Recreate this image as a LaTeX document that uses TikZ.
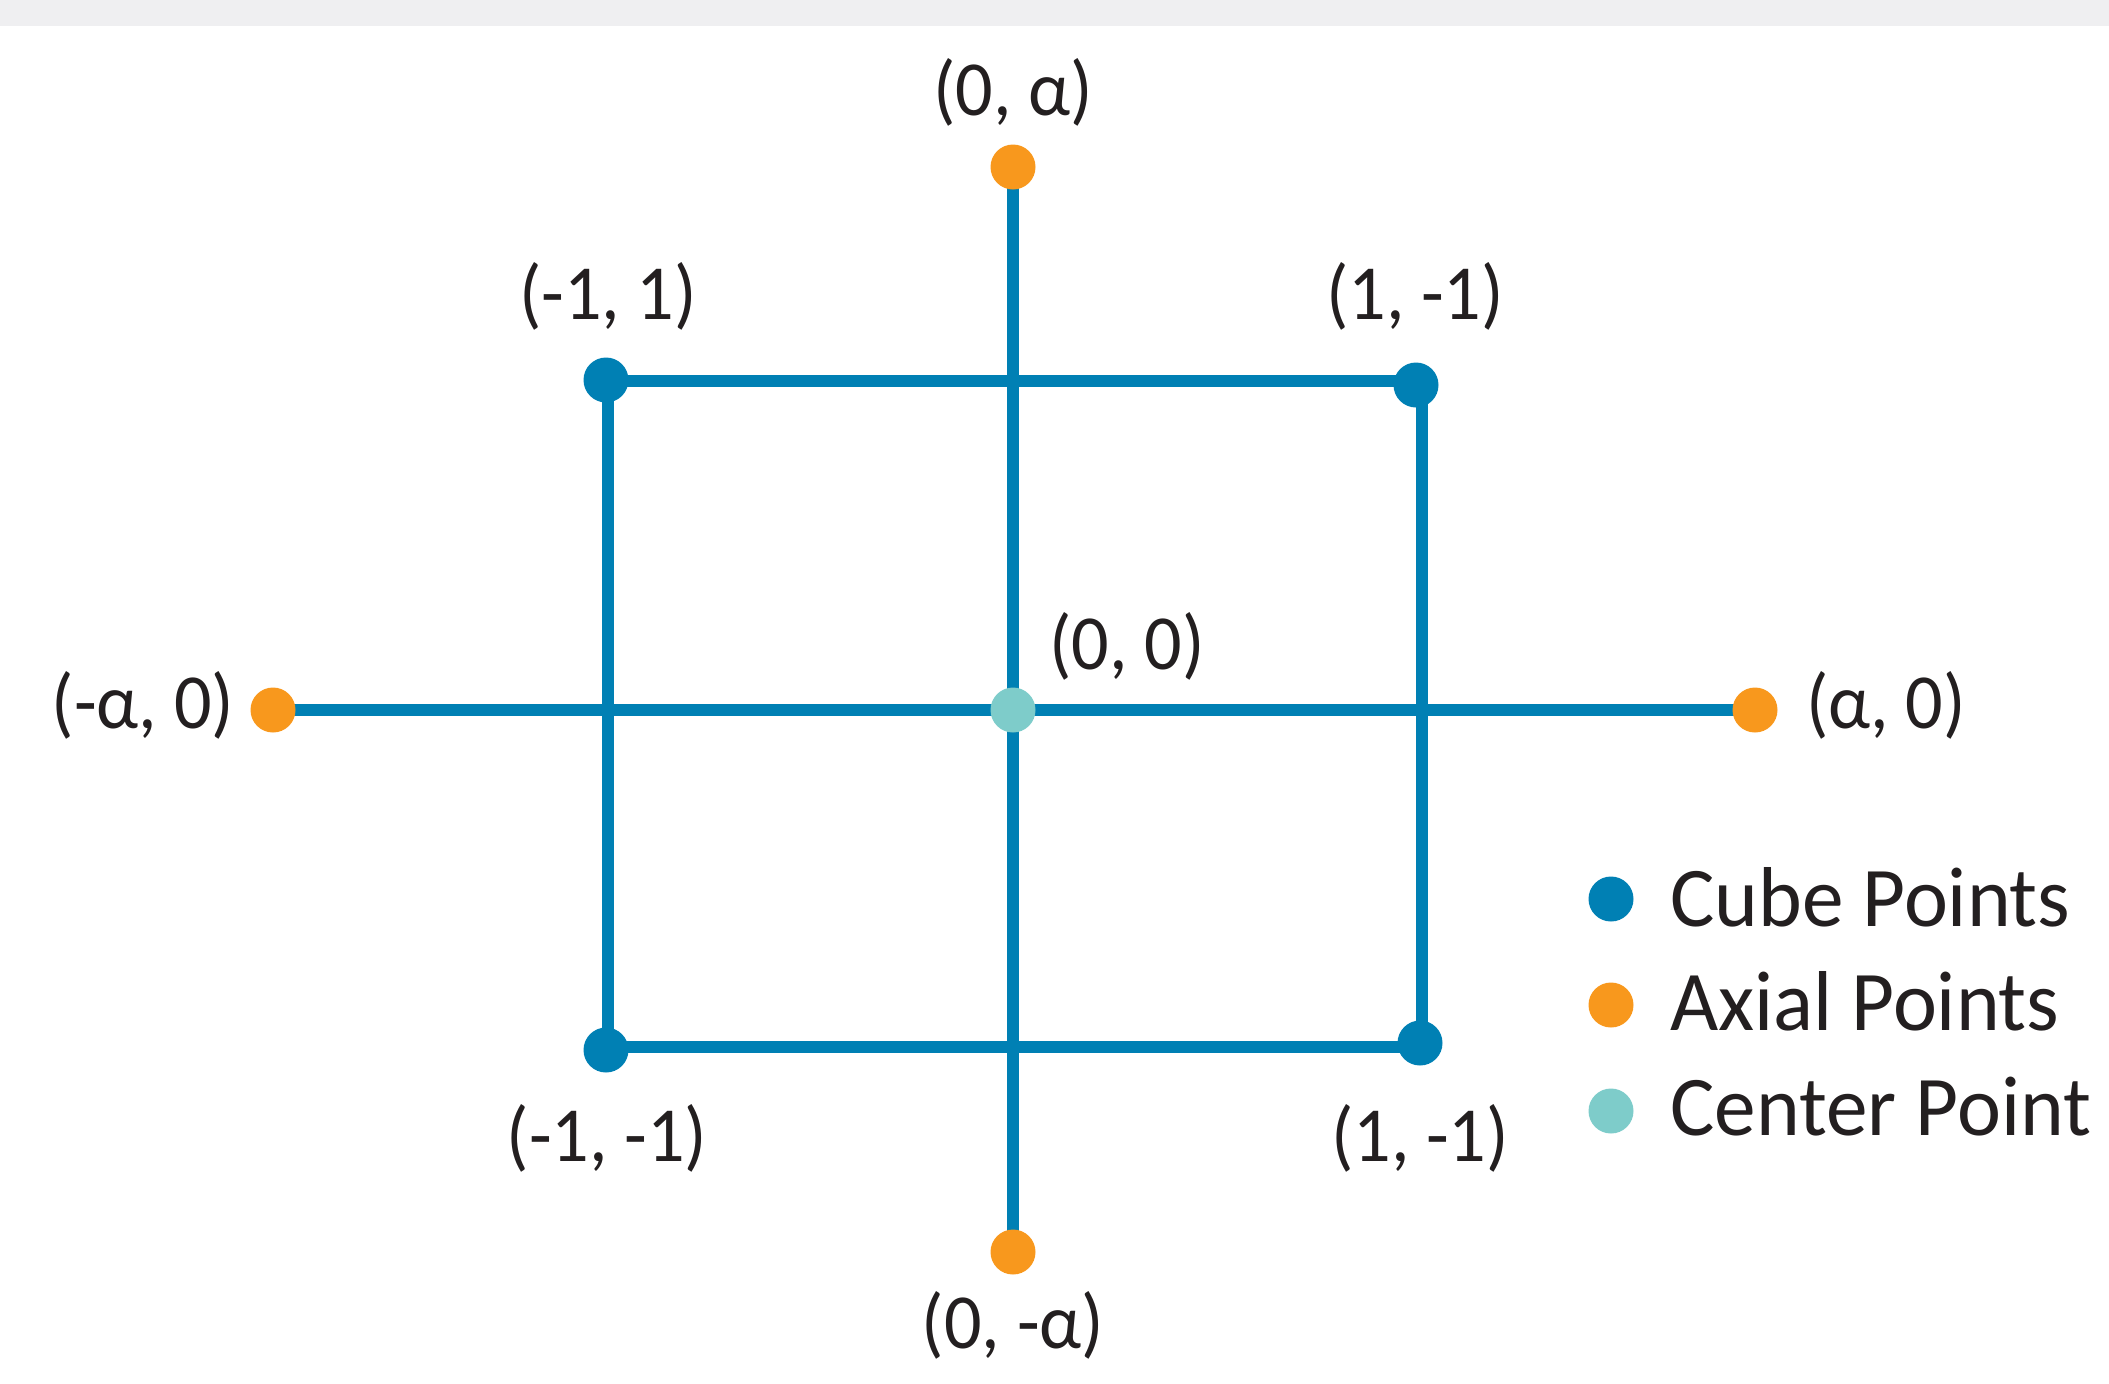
\documentclass[tikz,border=0pt]{standalone}
\usepackage{fontspec}
\setmainfont{Carlito}
\newfontfamily\labfont{Carlito}[FakeStretch=0.95]
\newfontfamily\legfont{Carlito}[FakeStretch=0.98]
\usetikzlibrary{backgrounds}
\definecolor{cblue}{RGB}{0,128,180}
\definecolor{corange}{RGB}{248,152,29}
\definecolor{cteal}{RGB}{126,204,202}
\definecolor{ctext}{RGB}{35,31,32}
\definecolor{cbar}{RGB}{239,239,241}
\tikzset{
  dot/.style={circle,inner sep=0pt,minimum size=22.5pt},
  cube/.style={dot,fill=cblue},
  axial/.style={dot,fill=corange},
  center/.style={dot,fill=cteal},
  lab/.style={text=ctext,font=\labfont\fontsize{39}{44}\selectfont,inner sep=0pt},
  leg/.style={text=ctext,font=\legfont\fontsize{42.5}{48}\selectfont,inner sep=0pt,anchor=base west},
  ln/.style={draw=cblue,line width=6pt}
}
\begin{document}
\begin{tikzpicture}[x=0.5pt,y=-0.5pt]
\useasboundingbox (0,0) rectangle (2109,1383);
\fill[cbar] (0,0) rectangle (2109,26);
% rectangle corners
\coordinate (rtl) at (608,381);
\coordinate (rtr) at (1422,381);
\coordinate (rbr) at (1422,1047);
\coordinate (rbl) at (608,1047);
% points
\node[axial] (top) at (1013,167) {};
\node[axial] (bot) at (1013,1252) {};
\node[axial] (lft) at (273,710) {};
\node[axial] (rgt) at (1755,710) {};
\node[cube] (tl) at (606,380) {};
\node[cube] (tr) at (1416,385) {};
\node[cube] (br) at (1420,1043) {};
\node[cube] (bl) at (606,1050) {};
\node[center] (ctr) at (1013,710) {};
\begin{pgfonlayer}{background}
\draw[ln] (top.center) -- (bot.center);
\draw[ln] (lft.center) -- (rgt.center);
\draw[ln] (rtl) -- (rtr) -- (rbr) -- (rbl) -- cycle;
\end{pgfonlayer}
% labels
\node[lab] (ltop) at (1013,92) {(0, α)};
\node[lab] (ltl) at (608,296) {(-1, 1)};
\node[lab] (ltr) at (1415,296) {(1, -1)};
\node[lab] (lctr) at (1127,646) {(0, 0)};
\node[lab] (llft) at (143,705) {(-α, 0)};
\node[lab] (lrgt) at (1886,705) {(α, 0)};
\node[lab] (lbl) at (607,1138) {(-1, -1)};
\node[lab] (lbr) at (1420,1138) {(1, -1)};
\node[lab] (lbot) at (1013,1325) {(0, -α)};
% legend
\node[cube] (k1) at (1611,899) {};
\node[axial] (k2) at (1611,1005) {};
\node[center] (k3) at (1611,1111) {};
\node[leg] (t1) at (1670,926) {Cube Points};
\node[leg] (t2) at (1670,1030) {Axial Points};
\node[leg] (t3) at (1670,1135) {Center Point};
\end{tikzpicture}
\end{document}
